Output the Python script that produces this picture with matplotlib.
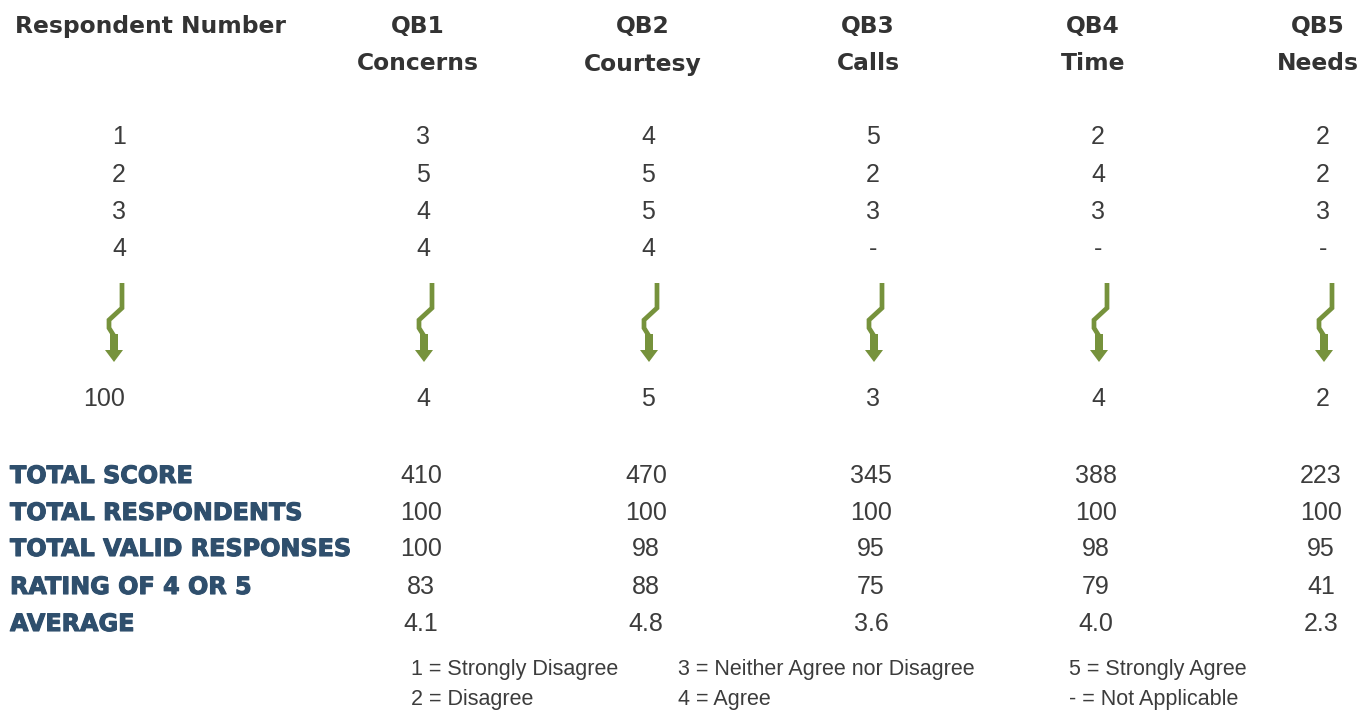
import matplotlib.pyplot as plt
import matplotlib.patches as mpatches
import matplotlib.patheffects as pe

# table content
resp_ids = ['1', '2', '3', '4', '100']
questions = ['QB1', 'QB2', 'QB3', 'QB4', 'QB5']
topics = ['Concerns', 'Courtesy', 'Calls', 'Time', 'Needs']
answers = [
    ['3', '4', '5', '2', '2'],
    ['5', '5', '2', '4', '2'],
    ['4', '5', '3', '3', '3'],
    ['4', '4', '-', '-', '-'],
    ['4', '5', '3', '4', '2'],
]
summary_labels = ['TOTAL SCORE', 'TOTAL RESPONDENTS', 'TOTAL VALID RESPONSES',
                  'RATING OF 4 OR 5', 'AVERAGE']
total_score = ['410', '470', '345', '388', '223']
total_resp = ['100', '100', '100', '100', '100']
valid_resp = ['100', '98', '95', '98', '95']
rating_45 = ['83', '88', '75', '79', '41']
average = ['4.1', '4.8', '3.6', '4.0', '2.3']
legend_items = [
    ['1 = Strongly Disagree', '2 = Disagree'],
    ['3 = Neither Agree nor Disagree', '4 = Agree'],
    ['5 = Strongly Agree', '- = Not Applicable'],
]

W, H = 1361, 710
fig = plt.figure(figsize=(W / 100, H / 100), dpi=100)
ax = fig.add_axes([0, 0, 1, 1])
ax.set_xlim(0, W)
ax.set_ylim(H, 0)
ax.axis('off')

dark = '#333333'
numc = '#3c3c3c'
blue = '#2f4f6d'
green = '#76923c'
num_font = 'Liberation Sans'
head_font = 'DejaVu Sans'

col_x = [119, 423, 648, 873, 1098, 1323]
arrow_x = [114, 424, 649, 874, 1099, 1324]
row_y = [137, 175, 212, 249, 399]

# header
ax.text(15, 26, 'Respondent Number', fontsize=16.8, fontweight='bold', family=head_font,
        color=dark, ha='left', va='center')
for i, (q, t) in enumerate(zip(questions, topics)):
    cx = col_x[i + 1] - 5
    ax.text(cx, 27, q, fontsize=16.8, fontweight='bold', family=head_font, color=dark,
            ha='center', va='center')
    ax.text(cx, 64, t, fontsize=16.8, fontweight='bold', family=head_font, color=dark,
            ha='center', va='center')

# respondent rows
for r, rid in enumerate(resp_ids):
    ax.text(col_x[0] - (15 if rid == '100' else 0), row_y[r], rid, fontsize=18,
            family=num_font, color=numc, ha='center', va='center')
    for c, v in enumerate(answers[r]):
        ax.text(col_x[c + 1], row_y[r], v, fontsize=18, family=num_font, color=numc,
                ha='center', va='center')


def draw_arrow(s):
    xs = [s + 8, s + 8, s - 5, s - 5, s, s]
    ys = [283, 308, 320, 328, 336, 342]
    ax.plot(xs, ys, color=green, lw=3.4, solid_joinstyle='miter', solid_capstyle='butt')
    ax.add_patch(mpatches.Rectangle((s - 4, 334), 8, 17, color=green, lw=0))
    ax.add_patch(mpatches.Polygon([[s - 9, 350], [s + 9, 350], [s, 362]],
                                  closed=True, color=green, lw=0))


for s in arrow_x:
    draw_arrow(s)

# summary block
summary = [total_score, total_resp, valid_resp, rating_45, average]
sum_y = [476, 513, 549, 587, 624]
thick = [pe.withStroke(linewidth=0.8, foreground=blue)]
for k, lab in enumerate(summary_labels):
    ax.text(10, sum_y[k], lab, fontsize=17.2, fontweight='bold', family='DejaVu Sans',
            color=blue, ha='left', va='center', path_effects=thick)
    for c, v in enumerate(summary[k]):
        ax.text(col_x[c + 1] - 2, sum_y[k], v, fontsize=18, family=num_font, color=numc,
                ha='center', va='center')

# key
leg_x = [411, 678, 1069]
for j, pair in enumerate(legend_items):
    for i, s in enumerate(pair):
        ax.text(leg_x[j], 670 + 30 * i, s, fontsize=15.5, family=num_font, color=numc,
                ha='left', va='center')

fig.savefig('out.png', dpi=100)
